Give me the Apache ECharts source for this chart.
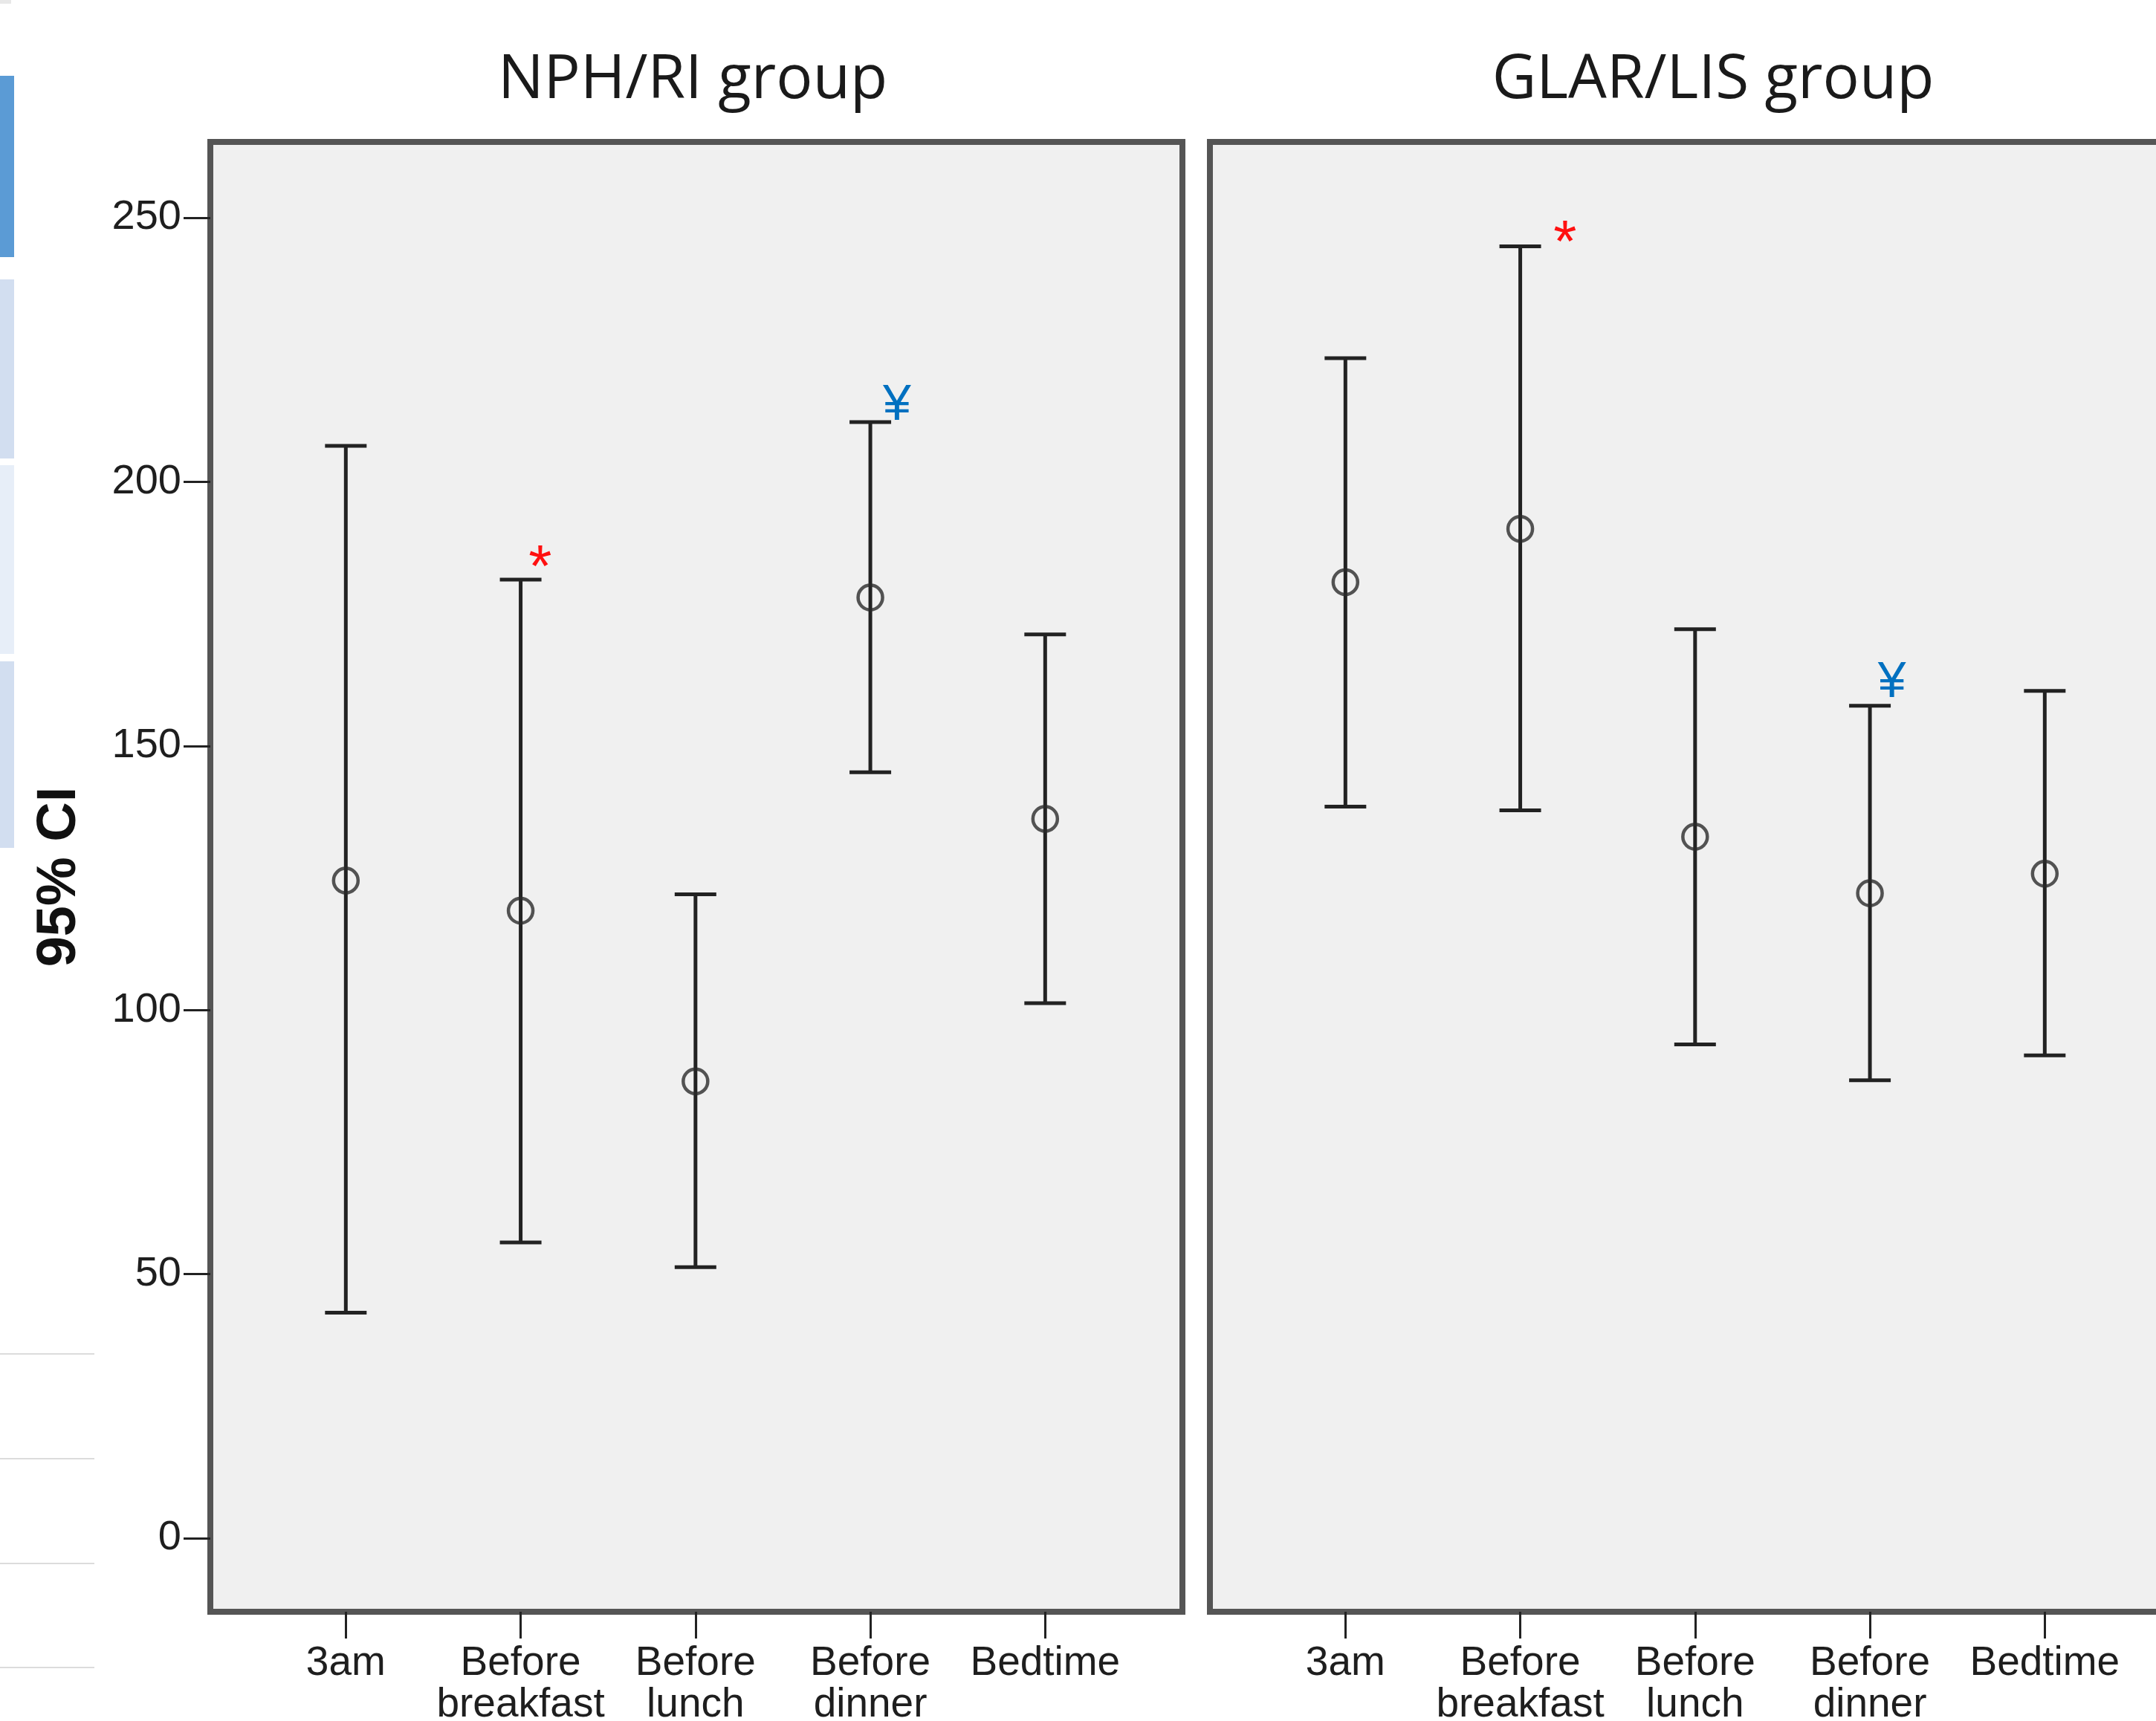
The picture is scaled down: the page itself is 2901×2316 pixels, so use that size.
<!DOCTYPE html>
<html>
<head>
<meta charset="utf-8">
<style>
html,body{margin:0;padding:0;background:#fff;}
#chart{width:2901px;height:2316px;}
</style>
<script src="https://cdn.jsdelivr.net/npm/echarts@6.0.0/dist/echarts.min.js"></script>
</head>
<body>
<div id="chart"></div>
<script>
// ---- data ----
const categories = ['3am', 'Before\nbreakfast', 'Before\nlunch', 'Before\ndinner', 'Bedtime'];
const yTicks = [0, 50, 100, 150, 200, 250];
const panelTitles = ['NPH/RI group', 'GLAR/LIS group'];
const yAxisTitle = '95% CI';

const nphLower = [42.7, 56.0, 51.3, 145.0, 101.3];
const nphMean  = [124.5, 118.8, 86.5, 178.1, 136.2];
const nphUpper = [206.8, 181.5, 121.9, 211.3, 171.1];

const glarLower = [138.5, 137.8, 93.5, 86.7, 91.4];
const glarMean  = [181.0, 191.1, 132.8, 122.1, 125.8];
const glarUpper = [223.4, 244.6, 172.1, 157.6, 160.4];

// annotation marks in data coordinates [x position, value]
const nphStar = [1.112, 185.8];
const nphYen = [3.152, 214.4];
const glarStar = [1.256, 247.3];
const glarYen = [3.126, 161.9];

// ---- chart ----
const chart = echarts.init(document.getElementById('chart'), null, {renderer: 'canvas'});
const catIdx = categories.map((c, i) => i);
const labelFont = '"Liberation Sans", Arial, sans-serif';

function grid(left) {
  return {
    left: left, top: 191, right: 2901 - left - 1308, height: 1978,
    show: true, backgroundColor: '#f0f0f0',
    borderColor: '#555555', borderWidth: 8, containLabel: false,
    outerBoundsMode: 'none'
  };
}
function xAxis(gi) {
  return {
    type: 'value', gridIndex: gi, min: -0.775, max: 4.785,
    splitLine: {show: false},
    axisLine: {show: false, onZero: false},
    axisTick: {show: true, customValues: catIdx, length: 36, lineStyle: {color: '#222', width: 3}},
    axisLabel: {
      show: true, customValues: catIdx, margin: 42,
      formatter: v => categories[Math.round(v)],
      fontFamily: labelFont, fontSize: 55, lineHeight: 56, color: '#1e1e1e',
      verticalAlign: 'top'
    }
  };
}
function yAxis(gi, showLabels) {
  const ax = {
    type: 'value', gridIndex: gi, min: -13.93, max: 264.35,
    splitLine: {show: false},
    axisLine: {show: false, onZero: false},
    axisTick: {show: showLabels, customValues: yTicks, length: 36, lineStyle: {color: '#222', width: 3}},
    axisLabel: {show: showLabels, customValues: yTicks, margin: 39,
      fontFamily: labelFont, fontSize: 56, color: '#1e1e1e'}
  };
  if (showLabels) {
    ax.name = yAxisTitle;
    ax.nameLocation = 'middle';
    ax.nameGap = 165;
    ax.nameTextStyle = {fontFamily: '"Liberation Sans", Arial, sans-serif', fontWeight: 'bold', fontSize: 74, color: '#111'};
  }
  return ax;
}
function errorSeries(gi, lower, upper) {
  return {
    type: 'custom', xAxisIndex: gi, yAxisIndex: gi, z: 2,
    data: lower.map((l, i) => [i, l, upper[i]]),
    renderItem: function (params, api) {
      const x = api.value(0);
      const lo = api.coord([x, api.value(1)]);
      const hi = api.coord([x, api.value(2)]);
      const half = 28;
      const st = {stroke: '#222', lineWidth: 5};
      return {type: 'group', children: [
        {type: 'line', shape: {x1: lo[0], y1: lo[1], x2: hi[0], y2: hi[1]}, style: st},
        {type: 'line', shape: {x1: lo[0] - half, y1: lo[1], x2: lo[0] + half, y2: lo[1]}, style: st},
        {type: 'line', shape: {x1: hi[0] - half, y1: hi[1], x2: hi[0] + half, y2: hi[1]}, style: st}
      ]};
    }
  };
}
function meanSeries(gi, mean) {
  return {
    type: 'scatter', xAxisIndex: gi, yAxisIndex: gi, z: 3,
    data: mean.map((m, i) => [i, m]),
    symbol: 'circle', symbolSize: 33,
    itemStyle: {color: 'rgba(0,0,0,0)', borderColor: '#2a2a2a', borderWidth: 4.5},
    silent: true
  };
}
function markSeries(gi, pos, text, color, size, dy) {
  return {
    type: 'custom', xAxisIndex: gi, yAxisIndex: gi, z: 4,
    data: [pos],
    renderItem: function (params, api) {
      const p = api.coord([api.value(0), api.value(1)]);
      return {type: 'text', x: p[0], y: p[1] + dy, style: {
        text: text, fill: color, font: size + 'px "Liberation Sans", Arial, sans-serif',
        align: 'center', verticalAlign: 'middle'}};
    }
  };
}

const titleStyle = {fontFamily: '"Open Sans", "Noto Sans", sans-serif', fontWeight: 'normal', fontSize: 82, color: '#1a1a1a'};
const option = {
  backgroundColor: '#ffffff',
  animation: false,
  title: [
    {text: panelTitles[0], left: 927, top: 63, textAlign: 'center', textStyle: titleStyle},
    {text: panelTitles[1], left: 2300, top: 63, textAlign: 'center', textStyle: titleStyle}
  ],
  grid: [grid(283), grid(1628)],
  xAxis: [xAxis(0), xAxis(1)],
  yAxis: [yAxis(0, true), yAxis(1, false)],
  series: [
    errorSeries(0, nphLower, nphUpper),
    meanSeries(0, nphMean),
    errorSeries(1, glarLower, glarUpper),
    meanSeries(1, glarMean),
    markSeries(0, nphStar, '*', '#ff1010', 80, 18),
    markSeries(0, nphYen, '¥', '#0070c0', 68, 0),
    markSeries(1, glarStar, '*', '#ff1010', 80, 18),
    markSeries(1, glarYen, '¥', '#0070c0', 68, 0)
  ],
  graphic: [
    {type: 'rect', shape: {x: 0, y: 102, width: 19, height: 244}, style: {fill: '#5b9bd5'}},
    {type: 'rect', shape: {x: 0, y: 376, width: 19, height: 241}, style: {fill: '#d2def0'}},
    {type: 'rect', shape: {x: 0, y: 626, width: 19, height: 254}, style: {fill: '#e7eef8'}},
    {type: 'rect', shape: {x: 0, y: 890, width: 19, height: 251}, style: {fill: '#d2def0'}},
    {type: 'rect', shape: {x: 0, y: 0, width: 15, height: 5}, style: {fill: '#e8e8e8'}},
    {type: 'line', shape: {x1: 0, y1: 1822, x2: 127, y2: 1822}, style: {stroke: '#dcdcdc', lineWidth: 2}},
    {type: 'line', shape: {x1: 0, y1: 1963, x2: 127, y2: 1963}, style: {stroke: '#dcdcdc', lineWidth: 2}},
    {type: 'line', shape: {x1: 0, y1: 2104, x2: 127, y2: 2104}, style: {stroke: '#dcdcdc', lineWidth: 2}},
    {type: 'line', shape: {x1: 0, y1: 2244, x2: 127, y2: 2244}, style: {stroke: '#dcdcdc', lineWidth: 2}}
  ]
};
chart.setOption(option);
</script>
</body>
</html>
